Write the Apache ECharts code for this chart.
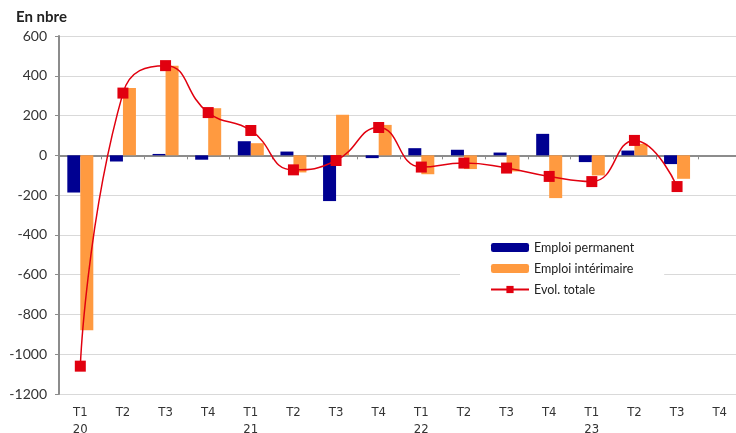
<!DOCTYPE html>
<html>
<head>
<meta charset="utf-8">
<script src="https://cdn.jsdelivr.net/npm/echarts@6/dist/echarts.min.js"></script>
<style>html,body{margin:0;padding:0;background:#fff}#c{width:736px;height:433px}</style>
</head>
<body>
<div id="c"></div>
<script>
const categories = ['T1\n20','T2','T3','T4','T1\n21','T2','T3','T4','T1\n22','T2','T3','T4','T1\n23','T2','T3','T4'];
const permanent = [-187,-31,7,-22,71,19,-230,-14,36,28,14,108,-34,24,-44,null];
const interim = [-880,338,450,237,61,-86,204,153,-95,-69,-81,-215,-101,58,-118,null];
const total = [-1060,313,451,215,125,-73,-26,140,-59,-39,-64,-106,-132,75,-157,null];
const yTicks = {min:-1200, max:600, interval:200};

const chart = echarts.init(document.getElementById('c'), null, {renderer:'canvas'});
chart.setOption({
  animation:false,
  title:{text:'En nbre', left:11, top:5, textStyle:{fontFamily:'Lato', fontWeight:'bold', fontSize:15, color:'#222'}},
  grid:{left:59, right:-5, top:36, bottom:39, containLabel:false, outerBoundsMode:'none'},
  legend:{
    orient:'vertical', left:460, top:236, padding:[5,30,10,30],
    backgroundColor:'#fff', itemWidth:38, itemHeight:9, itemGap:8,
    textStyle:{fontFamily:'Lato', fontSize:12.5, color:'#222'},
    data:['Emploi permanent','Emploi intérimaire','Evol. totale']
  },
  xAxis:[
    {type:'category', data:categories, position:'bottom',
     axisLine:{show:false, onZero:false}, axisTick:{show:false},
     axisLabel:{margin:10, fontFamily:'DejaVu Sans Condensed, Liberation Sans, sans-serif', fontSize:13, color:'#333', lineHeight:17}},
    {type:'category', data:categories, position:'top',
     axisLine:{show:true, onZero:true, lineStyle:{color:'#8c8c8c', width:2}},
     axisTick:{show:true, inside:true, length:4, lineStyle:{color:'#8c8c8c', width:1}},
     axisLabel:{show:false}}
  ],
  yAxis:{type:'value', min:yTicks.min, max:yTicks.max, interval:yTicks.interval,
    axisLine:{show:true, lineStyle:{color:'#8c8c8c', width:2}},
    axisTick:{show:true, length:4, lineStyle:{color:'#8c8c8c'}},
    splitLine:{lineStyle:{color:'#d9d9d9', width:1}},
    axisLabel:{margin:12, fontFamily:'Lato', fontSize:14, color:'#333', formatter: v => String(v)}},
  series:[
    {name:'Emploi permanent', type:'bar', data:permanent, barWidth:13, barGap:'0%', itemStyle:{color:'#000091'}},
    {name:'Emploi intérimaire', type:'bar', data:interim, barWidth:13, barGap:'0%', itemStyle:{color:'#FF9A40'}},
    {name:'Evol. totale', type:'line', data:total, smooth:0.5, symbol:'rect', symbolSize:11,
     lineStyle:{color:'#E1000F', width:1.5}, itemStyle:{color:'#E1000F'}, z:5}
  ]
});
</script>
</body>
</html>
